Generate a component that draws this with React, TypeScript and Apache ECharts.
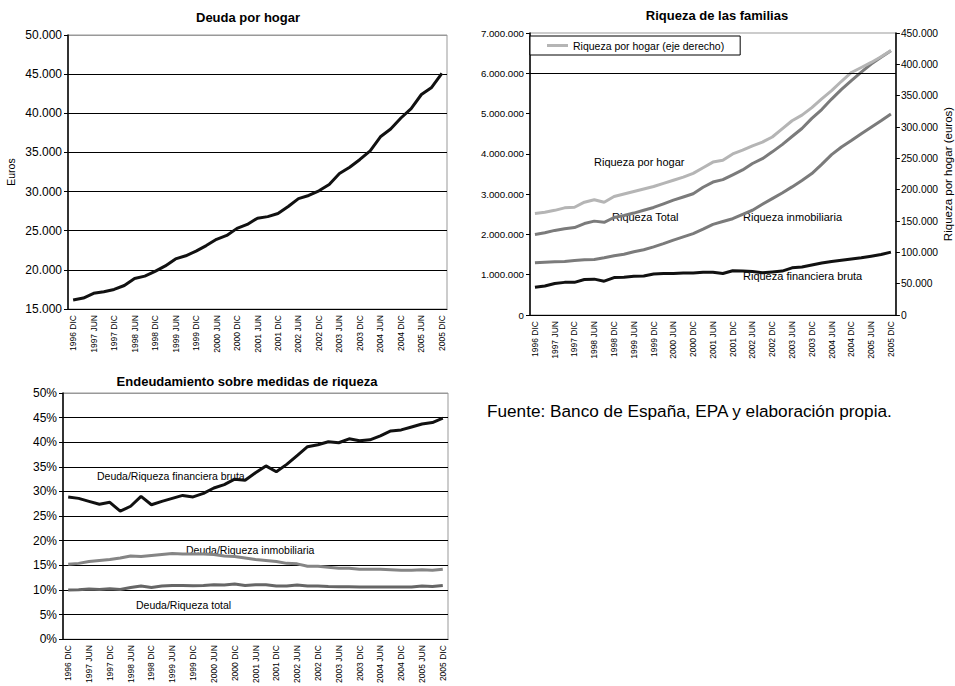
import React, { useEffect, useRef } from "react";
import * as echarts from "echarts";

const FONT = "'Liberation Sans', Arial, Helvetica, sans-serif";

const periods = [
  "1996 DIC",
  "1997 MAR", "1997 JUN", "1997 SEP", "1997 DIC",
  "1998 MAR", "1998 JUN", "1998 SEP", "1998 DIC",
  "1999 MAR", "1999 JUN", "1999 SEP", "1999 DIC",
  "2000 MAR", "2000 JUN", "2000 SEP", "2000 DIC",
  "2001 MAR", "2001 JUN", "2001 SEP", "2001 DIC",
  "2002 MAR", "2002 JUN", "2002 SEP", "2002 DIC",
  "2003 MAR", "2003 JUN", "2003 SEP", "2003 DIC",
  "2004 MAR", "2004 JUN", "2004 SEP", "2004 DIC",
  "2005 MAR", "2005 JUN", "2005 SEP", "2005 DIC",
];

// Chart 1: Deuda por hogar (euros)
const deudaPorHogar = [
  16150, 16400, 17000, 17200, 17500, 18000, 18900, 19200, 19800, 20500,
  21400, 21800, 22400, 23100, 23900, 24400, 25300, 25800, 26600, 26800,
  27200, 28100, 29100, 29500, 30100, 30900, 32300, 33100, 34100, 35200,
  37000, 38000, 39400, 40600, 42400, 43300, 45100,
];

// Chart 2: Riqueza de las familias (euros)
const riquezaTotal = [
  2000000, 2040000, 2100000, 2140000, 2170000, 2270000, 2330000, 2300000, 2420000, 2470000,
  2530000, 2600000, 2670000, 2760000, 2850000, 2930000, 3010000, 3170000, 3300000, 3360000,
  3480000, 3600000, 3760000, 3880000, 4050000, 4230000, 4430000, 4630000, 4880000, 5100000,
  5360000, 5600000, 5820000, 6030000, 6230000, 6400000, 6560000,
];
const riquezaInmobiliaria = [
  1300000, 1310000, 1320000, 1330000, 1350000, 1370000, 1380000, 1420000, 1470000, 1510000,
  1570000, 1620000, 1690000, 1770000, 1860000, 1940000, 2020000, 2130000, 2250000, 2320000,
  2390000, 2500000, 2600000, 2750000, 2890000, 3030000, 3180000, 3340000, 3510000, 3740000,
  3980000, 4170000, 4330000, 4500000, 4660000, 4820000, 4990000,
];
const riquezaFinanciera = [
  690000, 720000, 780000, 810000, 810000, 880000, 890000, 840000, 930000, 940000,
  960000, 970000, 1020000, 1030000, 1030000, 1040000, 1040000, 1060000, 1060000, 1030000,
  1100000, 1090000, 1080000, 1050000, 1070000, 1090000, 1170000, 1190000, 1240000, 1290000,
  1330000, 1360000, 1390000, 1420000, 1460000, 1500000, 1560000,
];
const riquezaPorHogar = [
  162000, 164000, 167000, 171000, 172000, 180000, 184000, 180000, 189000, 193000,
  197000, 201000, 205000, 210000, 215000, 220000, 226000, 235000, 244000, 247000,
  257000, 263000, 270000, 276000, 284000, 297000, 310000, 319000, 331000, 345000,
  358000, 373000, 387000, 395000, 403000, 412000, 422000,
];

// Chart 3: Endeudamiento sobre medidas de riqueza (%)
const deudaFinanciera = [
  28.9, 28.6, 28.0, 27.4, 27.8, 26.0, 27.0, 29.0, 27.3, 28.0,
  28.6, 29.2, 28.9, 29.6, 30.7, 31.4, 32.5, 32.3, 33.8, 35.2,
  34.0, 35.5, 37.3, 39.1, 39.5, 40.1, 39.9, 40.7, 40.3, 40.5,
  41.3, 42.3, 42.5, 43.1, 43.7, 44.0, 44.9,
];
const deudaInmobiliaria = [
  15.2, 15.4, 15.8, 16.0, 16.2, 16.5, 16.9, 16.8, 17.0, 17.2,
  17.4, 17.3, 17.3, 17.3, 17.2, 16.9, 16.8, 16.5, 16.2, 16.0,
  15.8, 15.4, 15.3, 14.8, 14.8, 14.6, 14.4, 14.4, 14.2, 14.2,
  14.2, 14.1, 14.0, 14.0, 14.1, 14.0, 14.2,
];
const deudaTotal = [
  10.0, 10.05, 10.2, 10.1, 10.25, 10.1, 10.5, 10.8, 10.5, 10.8,
  10.9, 10.9, 10.85, 10.9, 11.05, 11.0, 11.2, 10.9, 11.05, 11.05,
  10.8, 10.8, 11.0, 10.8, 10.8, 10.7, 10.65, 10.65, 10.6, 10.6,
  10.6, 10.6, 10.6, 10.6, 10.8, 10.7, 10.9,
];

const thousands = (v: number) =>
  String(Math.round(v)).replace(/\B(?=(\d{3})+(?!\d))/g, ".");

function catAxis(gridIndex: number) {
  return {
    type: "category",
    gridIndex,
    data: periods,
    boundaryGap: true,
    axisLine: { lineStyle: { color: "#000", width: 1 } },
    axisTick: { interval: 0, length: 4, lineStyle: { color: "#000" } },
    axisLabel: {
      interval: 1,
      rotate: 90,
      fontSize: 8.5,
      color: "#000",
      fontFamily: FONT,
      margin: 6,
    },
  };
}

function lineSeries(name: string, data: number[], color: string, x: number, y: number, extra: any = {}) {
  return {
    type: "line",
    name,
    data,
    xAxisIndex: x,
    yAxisIndex: y,
    showSymbol: false,
    symbol: "none",
    lineStyle: { color, width: 3 },
    itemStyle: { color },
    silent: true,
    ...extra,
  };
}

function label(text: string, x: number, y: number, size = 11, align = "left", bold = false) {
  return {
    type: "text",
    x,
    y,
    silent: true,
    style: {
      text,
      fill: "#000",
      font: `${bold ? "bold " : ""}${size}px ${FONT}`,
      textAlign: align,
      textVerticalAlign: "middle",
    },
  };
}

export default function App() {
  const ref = useRef<HTMLDivElement>(null);

  useEffect(() => {
    if (!ref.current) return;
    const chart = echarts.init(ref.current, undefined, { renderer: "svg" });

    const option: any = {
      animation: false,
      backgroundColor: "#fff",
      textStyle: { fontFamily: FONT },
      grid: [
        { left: 68, top: 35, width: 379, height: 274, show: true, borderColor: "#999", borderWidth: 1 },
        { left: 530, top: 33, width: 369, height: 282, show: true, borderColor: "#999", borderWidth: 1 },
        { left: 63, top: 393, width: 385, height: 250, show: true, borderColor: "#999", borderWidth: 1 },
      ],
      legend: {
        data: ["Riqueza por hogar (eje derecho)"],
        left: 530,
        top: 36,
        padding: [4, 16, 4, 17],
        itemWidth: 21,
        itemHeight: 3,
        icon: "rect",
        borderColor: "#000",
        borderWidth: 1,
        backgroundColor: "#fff",
        textStyle: { fontSize: 10.5, color: "#000", fontFamily: FONT },
        selectedMode: false,
      },
      xAxis: [catAxis(0), catAxis(1), catAxis(2)],
      yAxis: [
        {
          type: "value",
          gridIndex: 0,
          min: 15000,
          max: 50000,
          interval: 5000,
          name: "Euros",
          nameLocation: "middle",
          nameGap: 52,
          nameRotate: 90,
          nameTextStyle: { fontSize: 10.5, color: "#000", fontFamily: FONT },
          axisLine: { show: true, lineStyle: { color: "#000", width: 1.5 } },
          axisTick: { show: true, length: 4, lineStyle: { color: "#000" } },
          axisLabel: { formatter: thousands, fontSize: 12, color: "#000", fontFamily: FONT, margin: 6 },
          splitLine: {
            show: true,
            lineStyle: { color: ["#000", "#000", "#000", "#000", "#000", "#000", "#000", "#999"], width: 1 },
          },
        },
        {
          type: "value",
          gridIndex: 1,
          min: 0,
          max: 7000000,
          interval: 1000000,
          axisLine: { show: true, lineStyle: { color: "#000", width: 1.5 } },
          axisTick: { show: true, length: 4, lineStyle: { color: "#000" } },
          axisLabel: { formatter: thousands, fontSize: 9.7, color: "#000", fontFamily: FONT, margin: 6 },
          splitLine: { show: false },
        },
        {
          type: "value",
          gridIndex: 1,
          position: "right",
          min: 0,
          max: 450000,
          interval: 50000,
          name: "Riqueza por hogar (euros)",
          nameLocation: "middle",
          nameGap: 41,
          nameRotate: 90,
          nameTextStyle: { fontSize: 11.5, color: "#000", fontFamily: FONT },
          axisLine: { show: true, lineStyle: { color: "#000", width: 1.5 } },
          axisTick: { show: true, length: 4, lineStyle: { color: "#000" } },
          axisLabel: { formatter: thousands, fontSize: 10.3, color: "#000", fontFamily: FONT, margin: 5 },
          splitLine: { show: false },
        },
        {
          type: "value",
          gridIndex: 2,
          min: 0,
          max: 50,
          interval: 5,
          axisLine: { show: true, lineStyle: { color: "#000", width: 1.5 } },
          axisTick: { show: true, length: 4, lineStyle: { color: "#000" } },
          axisLabel: { formatter: (v: number) => `${v}%`, fontSize: 12, color: "#000", fontFamily: FONT, margin: 6 },
          splitLine: {
            show: true,
            lineStyle: {
              color: ["#000", "#000", "#000", "#000", "#000", "#000", "#000", "#000", "#000", "#000", "#999"],
              width: 1,
            },
          },
        },
      ],
      series: [
        lineSeries("Deuda por hogar", deudaPorHogar, "#111", 0, 0),
        lineSeries("Riqueza financiera bruta", riquezaFinanciera, "#111", 1, 1),
        lineSeries("Riqueza inmobiliaria", riquezaInmobiliaria, "#7b7b7b", 1, 1),
        lineSeries("Riqueza Total", riquezaTotal, "#7b7b7b", 1, 1, {
          markLine: {
            silent: true,
            symbol: ["none", "none"],
            label: { show: false },
            lineStyle: { color: "#000", type: "solid", width: 1 },
            data: [{ yAxis: 6000000 }],
          },
        }),
        lineSeries("Riqueza por hogar (eje derecho)", riquezaPorHogar, "#b5b5b5", 1, 2),
        lineSeries("Deuda/Riqueza inmobiliaria", deudaInmobiliaria, "#858585", 2, 3),
        lineSeries("Deuda/Riqueza total", deudaTotal, "#666", 2, 3),
        lineSeries("Deuda/Riqueza financiera bruta", deudaFinanciera, "#111", 2, 3),
      ],
      graphic: [
        label("Deuda por hogar", 248, 17, 13, "center", true),
        label("Riqueza de las familias", 717, 15, 13, "center", true),
        label("Endeudamiento sobre medidas de riqueza", 247, 381, 13, "center", true),
        label("Riqueza por hogar", 594, 162, 11),
        label("Riqueza Total", 612, 217, 11),
        label("Riqueza inmobiliaria", 743, 217, 11),
        label("Riqueza financiera bruta", 743, 276, 11),
        label("Deuda/Riqueza financiera bruta", 97, 476, 10.5),
        label("Deuda/Riqueza inmobiliaria", 186, 550, 10.5),
        label("Deuda/Riqueza total", 136, 605, 10.5),
        label("Fuente: Banco de España, EPA y elaboración propia.", 487, 411, 17.2),
      ],
    };

    chart.setOption(option);
    return () => chart.dispose();
  }, []);

  return (
    <div
      ref={ref}
      style={{ position: "fixed", left: 0, top: 0, width: 955, height: 686, background: "#fff" }}
    />
  );
}
